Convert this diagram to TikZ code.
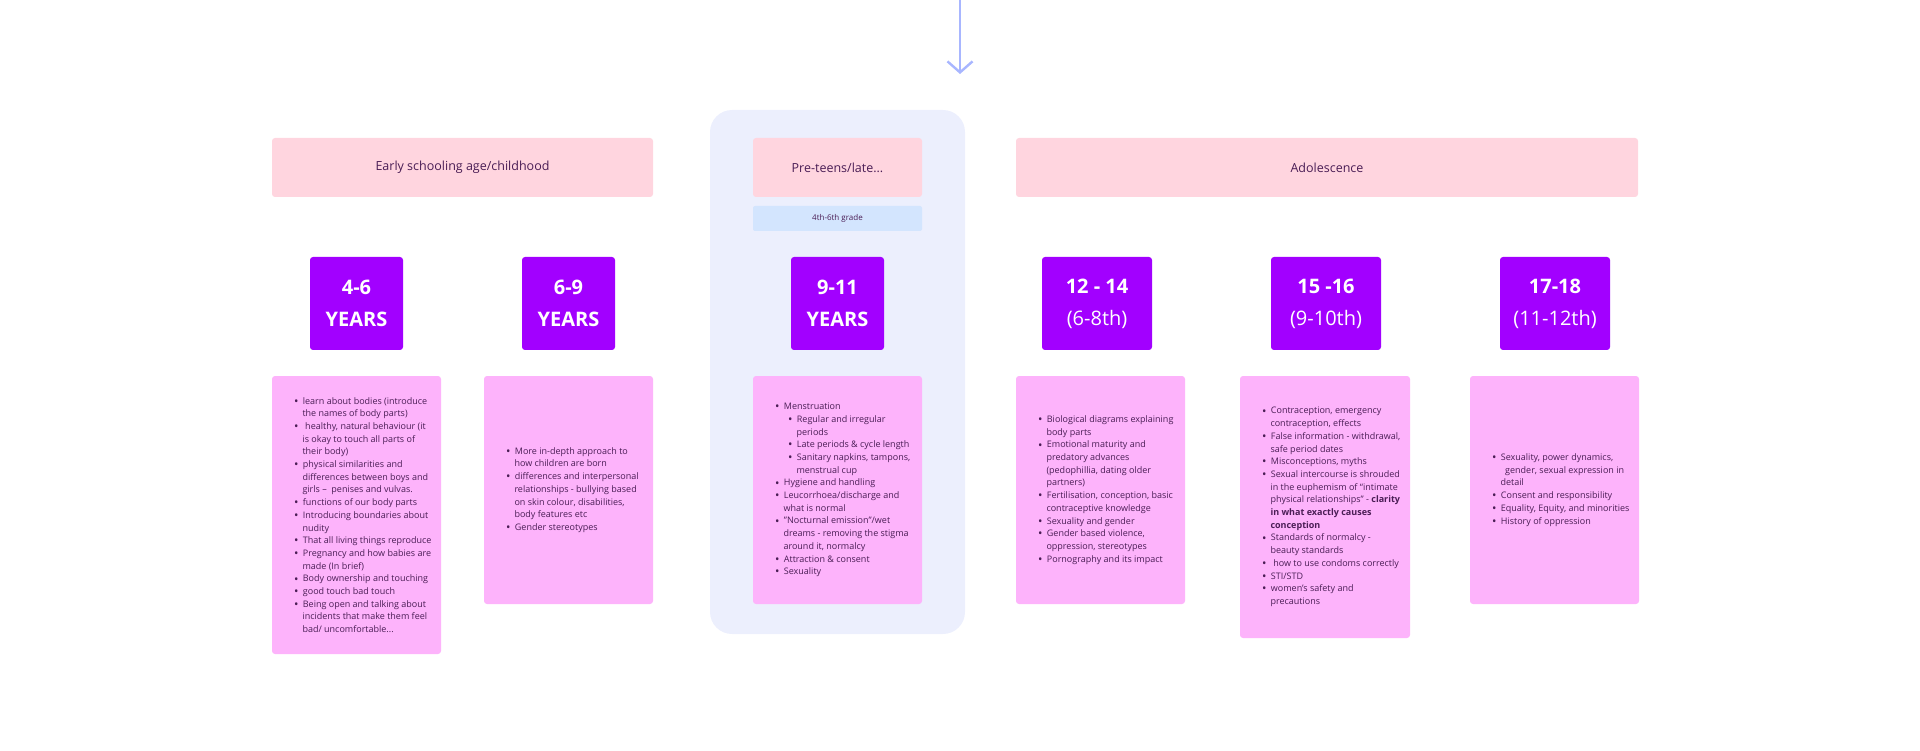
\documentclass[tikz,border=0pt]{standalone}
\usepackage{fontspec}
\setmainfont{Open Sans}
\usetikzlibrary{arrows.meta}
\definecolor{pinkbox}{HTML}{FDB3FB}
\definecolor{hdrpink}{HTML}{FFD5DF}
\definecolor{agepurple}{HTML}{A200FF}
\definecolor{contbg}{HTML}{ECEFFD}
\definecolor{gradeblue}{HTML}{D3E5FE}
\definecolor{arrowc}{HTML}{A8B6FF}
\definecolor{plum}{HTML}{4A1D55}
\newcommand{\bul}{\raisebox{-1.2pt}{\scalebox{1.3}{\textbullet}}}
\newenvironment{blist}{\begin{list}{\bul}{\setlength{\leftmargin}{9.5pt}\setlength{\labelwidth}{4pt}\setlength{\labelsep}{4.5pt}\setlength{\itemsep}{0pt}\setlength{\parsep}{0pt}\setlength{\topsep}{0pt}\setlength{\partopsep}{0pt}\setlength{\itemindent}{0pt}\setlength{\rightmargin}{0pt}}}{\end{list}}
\newenvironment{slist}{\begin{list}{\bul}{\setlength{\leftmargin}{13pt}\setlength{\labelwidth}{4pt}\setlength{\labelsep}{4.5pt}\setlength{\itemsep}{0pt}\setlength{\parsep}{0pt}\setlength{\topsep}{0pt}\setlength{\partopsep}{0pt}\setlength{\itemindent}{0pt}\setlength{\rightmargin}{0pt}}}{\end{list}}
\newcommand{\itembox}[1]{\begin{minipage}{170pt}\fontsize{9}{12.7}\selectfont\raggedright\color{plum}#1\end{minipage}}
\begin{document}
\begin{tikzpicture}[x=1pt,y=-1pt,
  hdr/.style={fill=hdrpink, rounded corners=3pt, inner sep=0pt, text=plum, font=\fontsize{12.5}{15}\selectfont},
  gradebox/.style={fill=gradeblue, rounded corners=2pt, inner sep=0pt, text=plum, font=\fontsize{8}{10}\selectfont, minimum width=169pt, minimum height=25pt},
  agebox/.style={fill=agepurple, rounded corners=3pt, inner sep=0pt, text=white, align=center, font=\fontsize{20}{32}\selectfont, minimum height=93pt},
  content/.style={fill=pinkbox, rounded corners=3pt, inner sep=0pt, minimum width=169pt},
  listtext/.style={anchor=west, inner sep=0pt}
]
\useasboundingbox (0,0) rectangle (1920,751);
% container
\node[fill=contbg, rounded corners=22pt, minimum width=255pt, minimum height=524pt, inner sep=0pt] (cont) at (837.5,372) {};
% arrow
\coordinate (atop) at (960,0);
\coordinate (abot) at (960,74);
\draw[arrowc, line width=2.4pt, -{Straight Barb[length=11pt,width=25pt,line width=2.4pt]}] (atop) -- (abot);
% headers
\node[hdr, minimum width=381pt, minimum height=59pt] (h1) at (462.5,167.5) {Early schooling age/childhood};
\node[hdr, minimum width=169pt, minimum height=59pt] (h2) at (837.5,167.5) {Pre-teens/late...};
\node[hdr, minimum width=622pt, minimum height=59pt] (h3) at (1327,167.5) {Adolescence};
\node[gradebox] (g2) at (837.5,218.5) {4th-6th grade};
% age boxes
\node[agebox, minimum width=93pt, font=\fontsize{20}{32}\selectfont\bfseries] (a1) at (356.5,303.5) {4-6\\YEARS};
\node[agebox, minimum width=93pt, font=\fontsize{20}{32}\selectfont\bfseries] (a2) at (568.5,303.5) {6-9\\YEARS};
\node[agebox, minimum width=93pt, font=\fontsize{20}{32}\selectfont\bfseries] (a3) at (837.5,303.5) {9-11\\YEARS};
\node[agebox, minimum width=110pt] (a4) at (1097,303.5) {\textbf{12 - 14}\\(6-8th)};
\node[agebox, minimum width=110pt] (a5) at (1326,303.5) {\textbf{15 -16}\\(9-10th)};
\node[agebox, minimum width=110pt] (a6) at (1555,303.5) {\textbf{17-18}\\(11-12th)};
% content boxes
\node[content, minimum height=278pt] (c1) at (356.5,515) {};
\node[content, minimum height=228pt] (c2) at (568.5,490) {};
\node[content, minimum height=228pt] (c3) at (837.5,490) {};
\node[content, minimum height=228pt] (c4) at (1100.5,490) {};
\node[content, minimum height=262pt, minimum width=170pt] (c5) at (1325,507) {};
\node[content, minimum height=228pt] (c6) at (1554.5,490) {};
% lists
\node[listtext] (t1) at ([xshift=21pt]c1.west) {\itembox{\begin{blist}
\item learn about bodies (introduce\\the names of body parts)
\item \ healthy, natural behaviour (it\\is okay to touch all parts of\\their body)
\item physical similarities and\\differences between boys and\\girls –\ \ penises and vulvas.
\item functions of our body parts
\item Introducing boundaries about\\nudity
\item That all living things reproduce
\item Pregnancy and how babies are\\made (In brief)
\item Body ownership and touching
\item good touch bad touch
\item Being open and talking about\\incidents that make them feel\\bad/ uncomfortable...
\end{blist}}};
\node[listtext] (t2) at ([xshift=21pt]c2.west) {\itembox{\begin{blist}
\item More in-depth approach to\\how children are born
\item differences and interpersonal\\relationships - bullying based\\on skin colour, disabilities,\\body features etc
\item Gender stereotypes
\end{blist}}};
\node[listtext] (t3) at ([xshift=21pt]c3.west) {\itembox{\begin{blist}
\item Menstruation
\begin{slist}
\item Regular and irregular\\periods
\item Late periods \& cycle length
\item Sanitary napkins, tampons,\\menstrual cup
\end{slist}
\item Hygiene and handling
\item Leucorrhoea/discharge and\\what is normal
\item "Nocturnal emission"/wet\\dreams - removing the stigma\\around it, normalcy
\item Attraction \& consent
\item Sexuality
\end{blist}}};
\node[listtext] (t4) at ([xshift=21pt]c4.west) {\itembox{\begin{blist}
\item Biological diagrams explaining\\body parts
\item Emotional maturity and\\predatory advances\\(pedophillia, dating older\\partners)
\item Fertilisation, conception, basic\\contraceptive knowledge
\item Sexuality and gender
\item Gender based violence,\\oppression, stereotypes
\item Pornography and its impact
\end{blist}}};
\node[listtext] (t5) at ([xshift=21pt]c5.west) {\itembox{\begin{blist}
\item Contraception, emergency\\contraception, effects
\item False information - withdrawal,\\safe period dates
\item Misconceptions, myths
\item Sexual intercourse is shrouded\\in the euphemism of “intimate\\physical relationships” - \textbf{clarity}\\\textbf{in what exactly causes}\\\textbf{conception}
\item Standards of normalcy -\\beauty standards
\item \ how to use condoms correctly
\item STI/STD
\item women’s safety and\\precautions
\end{blist}}};
\node[listtext] (t6) at ([xshift=21pt]c6.west) {\itembox{\begin{blist}
\item Sexuality, power dynamics,\\\ \ gender, sexual expression in\\detail
\item Consent and responsibility
\item Equality, Equity, and minorities
\item History of oppression
\end{blist}}};
\end{tikzpicture}
\end{document}
